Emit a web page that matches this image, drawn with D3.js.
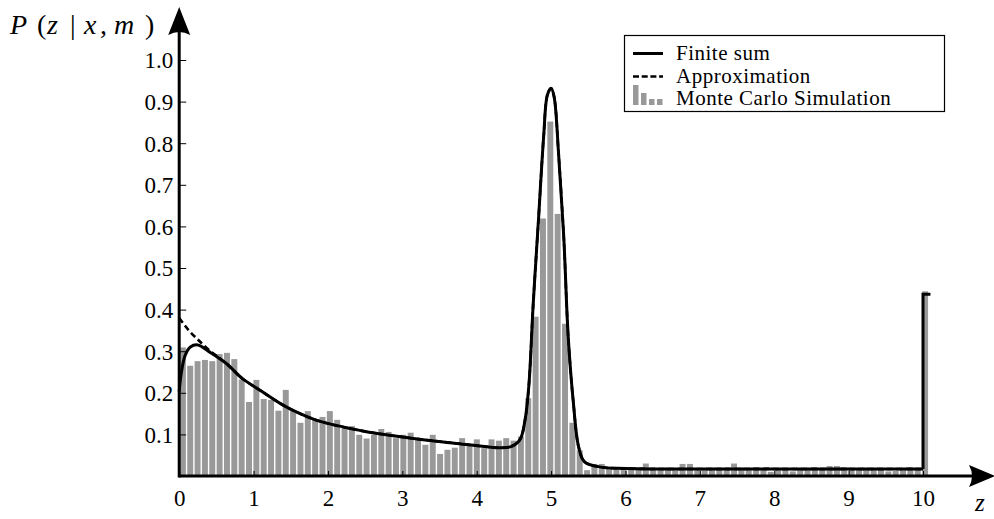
<!DOCTYPE html>
<html>
<head>
<meta charset="utf-8">
<script src="https://cdn.jsdelivr.net/npm/d3@7"></script>
<style>
  body { margin: 0; background: #fff; }
  text { font-family: "Liberation Serif", "DejaVu Serif", serif; fill: #000; }
</style>
</head>
<body>
<svg id="chart" width="994" height="519"></svg>
<script>
// Monte Carlo histogram, one value per bin
const histP = [
  0.309, 0.265, 0.276, 0.279, 0.276, 0.293, 0.296, 0.281, 0.232, 0.178,
  0.231, 0.185, 0.183, 0.157, 0.207, 0.156, 0.128, 0.156, 0.136, 0.142,
  0.156, 0.135, 0.115, 0.120, 0.099, 0.090, 0.099, 0.113, 0.106, 0.091,
  0.099, 0.104, 0.088, 0.075, 0.099, 0.053, 0.063, 0.068, 0.091, 0.074,
  0.088, 0.067, 0.088, 0.085, 0.091, 0.085, 0.095, 0.187, 0.383, 0.619,
  0.852, 0.630, 0.366, 0.128, 0.062, 0.014, 0.029, 0.029, 0.020, 0.020,
  0.020, 0.020, 0.020, 0.030, 0.020, 0.014, 0.020, 0.014, 0.029, 0.029,
  0.014, 0.014, 0.020, 0.020, 0.020, 0.030, 0.020, 0.014, 0.021, 0.017,
  0.010, 0.017, 0.017, 0.011, 0.017, 0.017, 0.021, 0.017, 0.024, 0.024,
  0.021, 0.017, 0.017, 0.017, 0.017, 0.017, 0.011, 0.012, 0.017, 0.021,
  0.017, 0.444
];
const binW = 0.0988;

// finite sum (smooth part up to z = 10)
const finiteZ = [0, 0.03, 0.08, 0.15, 0.25, 0.4, 0.63, 0.85, 1.08, 1.39, 1.61, 1.83, 2.05, 2.28, 2.5, 2.83,
  3.25, 3.7, 4.15, 4.3, 4.45, 4.58, 4.65, 4.7, 4.76, 4.83, 4.9, 4.95, 5.0, 5.04, 5.1, 5.17, 5.23, 5.3,
  5.37, 5.45, 5.65, 6.0, 8.0, 10.0];
const finiteP = [0.203, 0.25, 0.29, 0.31, 0.315, 0.299, 0.271, 0.234, 0.207, 0.171, 0.151, 0.135, 0.124, 0.115, 0.107, 0.098,
  0.088, 0.079, 0.070, 0.068, 0.070, 0.087, 0.135, 0.215, 0.415, 0.615, 0.816, 0.916, 0.932, 0.912, 0.776, 0.575, 0.335, 0.175,
  0.070, 0.034, 0.022, 0.018, 0.017, 0.017];
// jump at z = 10
const jumpZ = [10.0, 10.0, 10.1];
const jumpP = [0.017, 0.437, 0.437];

// approximation differs only near z = 0
const approxZ = [0, 0.12, 0.25, 0.4];
const approxP = [0.38, 0.352, 0.328, 0.303];

const xTicks = [0, 1, 2, 3, 4, 5, 6, 7, 8, 9, 10];
const yTicks = [0.1, 0.2, 0.3, 0.4, 0.5, 0.6, 0.7, 0.8, 0.9, 1.0];
const legendLabels = ["Finite sum", "Approximation", "Monte Carlo Simulation"];

const svg = d3.select("#chart");
const x = d3.scaleLinear().domain([0, 10]).range([179.2, 923]);
const y = d3.scaleLinear().domain([0, 1]).range([476, 60]);

svg.append("rect").attr("width", 994).attr("height", 519).attr("fill", "#fff");

// histogram bars
svg.append("g")
  .selectAll("rect")
  .data(histP)
  .enter()
  .append("rect")
  .attr("x", (d, i) => x((i + 0.5) * binW - 0.04))
  .attr("width", x(0.08) - x(0))
  .attr("y", d => y(d))
  .attr("height", d => y(0) - y(d))
  .attr("fill", "#999999");

const zip = (a, b) => a.map((v, i) => [v, b[i]]);
const smooth = d3.line().x(d => x(d[0])).y(d => y(d[1])).curve(d3.curveCatmullRom.alpha(0.5));
const straight = d3.line().x(d => x(d[0])).y(d => y(d[1]));

const approxPts = zip(approxZ, approxP).concat(zip(finiteZ, finiteP).filter(d => d[0] > 0.5));
svg.append("path")
  .attr("d", smooth(approxPts))
  .attr("fill", "none")
  .attr("stroke", "#000")
  .attr("stroke-width", 2.6)
  .attr("stroke-dasharray", "6,3.5");

svg.append("path")
  .attr("d", smooth(zip(finiteZ, finiteP)))
  .attr("fill", "none")
  .attr("stroke", "#000")
  .attr("stroke-width", 3);

svg.append("path")
  .attr("d", straight(zip(jumpZ, jumpP)))
  .attr("fill", "none")
  .attr("stroke", "#000")
  .attr("stroke-width", 3);

// axes
const xAxis = svg.append("g")
  .attr("transform", "translate(0," + y(0) + ")")
  .call(d3.axisBottom(x).tickValues(xTicks).tickSize(-5).tickFormat(d3.format("d")));
xAxis.select(".domain").remove();
xAxis.selectAll(".tick line").attr("stroke-width", 1);
xAxis.selectAll(".tick text")
  .attr("y", 30)
  .attr("dy", 0)
  .style("font-size", "23px");

const yAxis = svg.append("g")
  .attr("transform", "translate(" + x(0) + ",0)")
  .call(d3.axisLeft(y).tickValues(yTicks).tickSize(-7).tickPadding(6).tickFormat(d3.format(".1f")));
yAxis.select(".domain").remove();
yAxis.selectAll(".tick line").attr("stroke-width", 1);
yAxis.selectAll(".tick text")
  .attr("dy", "0.34em")
  .style("font-size", "23px");

// axis lines with arrows
svg.append("line")
  .attr("x1", x(0)).attr("x2", 980)
  .attr("y1", y(0)).attr("y2", y(0))
  .attr("stroke", "#000").attr("stroke-width", 3);
svg.append("line")
  .attr("x1", x(0)).attr("x2", x(0))
  .attr("y1", y(0) + 1.5).attr("y2", 25)
  .attr("stroke", "#000").attr("stroke-width", 3);
svg.append("path")
  .attr("d", `M995,${y(0)} L969,${y(0) - 11} Q975,${y(0)} 969,${y(0) + 11} Z`)
  .attr("fill", "#000");
svg.append("path")
  .attr("d", `M${x(0)},7 L${x(0) - 11},35 Q${x(0)},29 ${x(0) + 11},35 Z`)
  .attr("fill", "#000");

// axis titles, laid out like TeX math
const titleParts = [
  { t: "P", at: 10, it: true }, { t: "(", at: 37, it: false }, { t: "z", at: 47, it: true },
  { t: "|", at: 70, it: false }, { t: "x", at: 84, it: true }, { t: ",", at: 100, it: false },
  { t: "m", at: 114, it: true }, { t: ")", at: 145, it: false }
];
svg.append("text")
  .attr("y", 34)
  .style("font-size", "28px")
  .selectAll("tspan")
  .data(titleParts)
  .enter()
  .append("tspan")
  .attr("x", d => d.at)
  .style("font-style", d => d.it ? "italic" : "normal")
  .text(d => d.t);

svg.append("text")
  .attr("x", 975).attr("y", 511)
  .style("font-size", "25px")
  .style("font-style", "italic")
  .text("z");

// legend
const legend = svg.append("g");
legend.append("rect")
  .attr("x", 624.5).attr("y", 35.5)
  .attr("width", 320).attr("height", 76)
  .attr("fill", "#fff").attr("stroke", "#000").attr("stroke-width", 1.2);

legend.append("line")
  .attr("x1", 633).attr("x2", 663).attr("y1", 53.5).attr("y2", 53.5)
  .attr("stroke", "#000").attr("stroke-width", 3);
legend.append("line")
  .attr("x1", 633).attr("x2", 663).attr("y1", 76.5).attr("y2", 76.5)
  .attr("stroke", "#000").attr("stroke-width", 2.6).attr("stroke-dasharray", "6,2.7");

const iconH = [20, 12, 6, 6];
legend.selectAll(".icon")
  .data(iconH)
  .enter()
  .append("rect")
  .attr("class", "icon")
  .attr("x", (d, i) => 633 + i * 8)
  .attr("width", 5.5)
  .attr("y", d => 105 - d)
  .attr("height", d => d)
  .attr("fill", "#999999");

legend.selectAll(".label")
  .data(legendLabels)
  .enter()
  .append("text")
  .attr("class", "label")
  .attr("x", 676)
  .attr("y", (d, i) => 60 + i * 22.7)
  .style("font-size", "21px")
  .style("letter-spacing", "0.5px")
  .text(d => d);
</script>
</body>
</html>
